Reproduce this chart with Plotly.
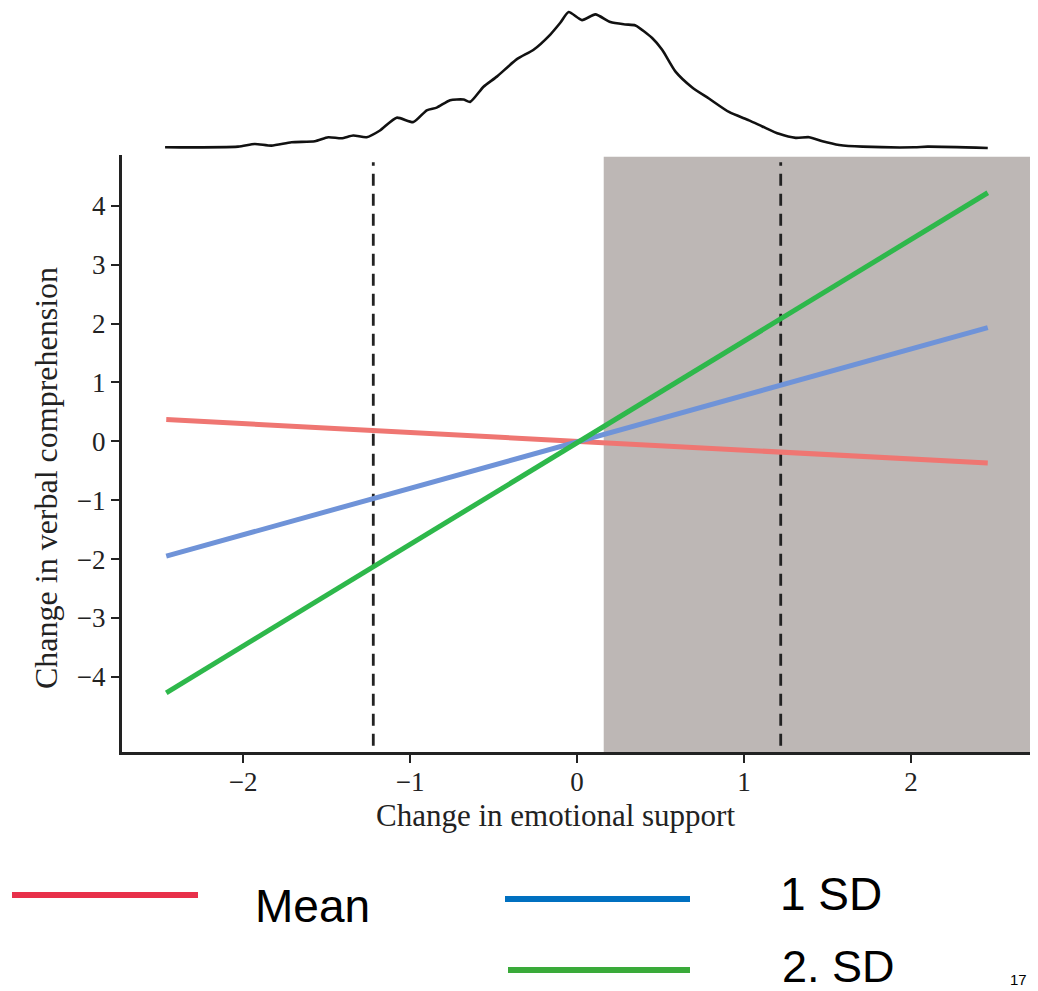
import plotly.graph_objects as go

OFF = 0
W, H = 1038, 991

# ---- data ----
x_ends = [-2.46, 2.46]
mean_y = [0.37, -0.37]
sd1_y = [-1.95, 1.93]
sd2_y = [-4.27, 4.22]

dashed_x = [-1.22, 1.22]
dashed_y = [-5.17, 4.74]
shade_x0 = 0.16

dens_x = [-2.467, -2.03, -1.93, -1.83, -1.71, -1.57, -1.49, -1.41, -1.34, -1.26, -1.18,
          -1.08, -0.98, -0.90, -0.84, -0.76, -0.68, -0.64, -0.56, -0.48, -0.36, -0.26,
          -0.16, -0.10, -0.05, 0.03, 0.11, 0.20, 0.29, 0.35, 0.45, 0.51, 0.59, 0.69,
          0.79, 0.91, 1.03, 1.11, 1.21, 1.31, 1.39, 1.47, 1.57, 1.71, 2.02, 2.10, 2.46]
dens_y = [0.002, 0.004, 0.012, 0.007, 0.017, 0.020, 0.032, 0.029, 0.037, 0.032, 0.052,
          0.090, 0.077, 0.112, 0.120, 0.142, 0.144, 0.137, 0.182, 0.212, 0.264, 0.292,
          0.337, 0.372, 0.404, 0.380, 0.397, 0.374, 0.367, 0.364, 0.327, 0.292, 0.227, 0.180,
          0.147, 0.107, 0.082, 0.064, 0.042, 0.030, 0.032, 0.020, 0.009, 0.004, 0.002, 0.004, 0.0]

x_ticks = [-2, -1, 0, 1, 2]
x_ticktext = ["\u22122", "\u22121", "0", "1", "2"]
y_ticks = [-4, -3, -2, -1, 0, 1, 2, 3, 4]
y_ticktext = ["\u22124", "\u22123", "\u22122", "\u22121", "0", "1", "2", "3", "4"]

legend_labels = ["Mean", "1 SD", "2. SD"]
legend_colors = ["#e8304a", "#0070c0", "#3aaa3a"]

XR = [-2.725, 2.713]
YR = [-5.275, 4.861]


def px(x):
    return min(1.0, max(0.0, (x - OFF) / W))


def py(y):
    return min(1.0, max(0.0, 1 - (y - OFF) / H))


fig = go.Figure()

# density curve
fig.add_trace(go.Scatter(x=dens_x, y=dens_y, mode="lines", xaxis="x2", yaxis="y2",
                         line=dict(color="#111111", width=2.6, shape="spline", smoothing=0.6),
                         showlegend=False, hoverinfo="skip", cliponaxis=False))

# dashed reference lines
for dx in dashed_x:
    fig.add_trace(go.Scatter(x=[dx, dx], y=dashed_y, mode="lines",
                             line=dict(color="#222222", width=2.8, dash="12px,8px"),
                             showlegend=False, hoverinfo="skip"))

# slopes
fig.add_trace(go.Scatter(x=x_ends, y=mean_y, mode="lines", name="Mean",
                         line=dict(color="#ef7672", width=5), showlegend=False))
fig.add_trace(go.Scatter(x=x_ends, y=sd1_y, mode="lines", name="1 SD",
                         line=dict(color="#6f93d8", width=5), showlegend=False))
fig.add_trace(go.Scatter(x=x_ends, y=sd2_y, mode="lines", name="2. SD",
                         line=dict(color="#2eb84b", width=5), showlegend=False))

shapes = [
    dict(type="rect", xref="x", yref="y domain", x0=shade_x0, x1=XR[1], y0=0, y1=0.997,
         fillcolor="#bdb7b5", line=dict(width=0), layer="below"),
]

# legend samples (decoration)
leg_pos = [((12, 198), 895, 0), ((505, 690), 899, 1), ((508, 690), 970, 2)]
for (xa, xb), yy, i in leg_pos:
    shapes.append(dict(type="line", xref="paper", yref="paper",
                       x0=px(xa), x1=px(xb), y0=py(yy), y1=py(yy),
                       line=dict(color=legend_colors[i], width=6)))

serif = "Liberation Serif, Times New Roman, serif"
sans = "Liberation Sans, Arial"

annotations = [
    dict(text=legend_labels[0], x=px(312), y=py(906), xref="paper", yref="paper",
         xanchor="center", yanchor="middle", showarrow=False,
         font=dict(family=sans, size=46, color="#000")),
    dict(text=legend_labels[1], x=px(778), y=py(894), xref="paper", yref="paper",
         xanchor="left", yanchor="middle", showarrow=False,
         font=dict(family=sans, size=46, color="#000")),
    dict(text=legend_labels[2], x=px(780), y=py(966), xref="paper", yref="paper",
         xanchor="left", yanchor="middle", showarrow=False,
         font=dict(family=sans, size=45, color="#000")),
    dict(text="17", x=px(1018), y=py(979), xref="paper", yref="paper",
         xanchor="center", yanchor="middle", showarrow=False,
         font=dict(family=sans, size=15, color="#000")),
    dict(text="Change in emotional support", x=px(555), y=py(815), xref="paper", yref="paper",
         xanchor="center", yanchor="middle", showarrow=False,
         font=dict(family=serif, size=31, color="#222")),
    dict(text="Change in verbal comprehension", x=px(46), y=py(478), xref="paper", yref="paper",
         xanchor="center", yanchor="middle", showarrow=False, textangle=-90,
         font=dict(family=serif, size=32, color="#222")),
]

DENS_TOP = (148 - 0) / 336.6

fig.update_layout(
    width=W, height=H,
    margin=dict(l=0, r=0, t=0, b=0),
    paper_bgcolor="white", plot_bgcolor="rgba(0,0,0,0)",
    shapes=shapes, annotations=annotations,
    xaxis=dict(domain=[px(122), px(1030)], range=XR, anchor="y",
               tickvals=x_ticks, ticktext=x_ticktext, ticks="outside", ticklen=8,
               tickwidth=2, tickcolor="#222", showline=True, linecolor="#222", linewidth=3,
               showgrid=False, zeroline=False, ticklabelstandoff=-4,
               tickfont=dict(family=serif, size=27, color="#222")),
    yaxis=dict(domain=[py(752), py(155)], range=YR, anchor="x",
               tickvals=y_ticks, ticktext=y_ticktext, ticks="outside", ticklen=8,
               tickwidth=2, tickcolor="#222", showline=True, linecolor="#222", linewidth=3,
               showgrid=False, zeroline=False,
               tickfont=dict(family=serif, size=27, color="#222")),
    xaxis2=dict(domain=[px(122), px(1030)], range=XR, anchor="y2", visible=False),
    yaxis2=dict(domain=[py(150), 1.0], range=[-0.006, DENS_TOP], anchor="x2", visible=False),
)

fig.write_html(
    "out.html",
    config={"displayModeBar": False},
    post_script="document.body.style.margin='0';document.body.style.overflow='hidden';",
)
